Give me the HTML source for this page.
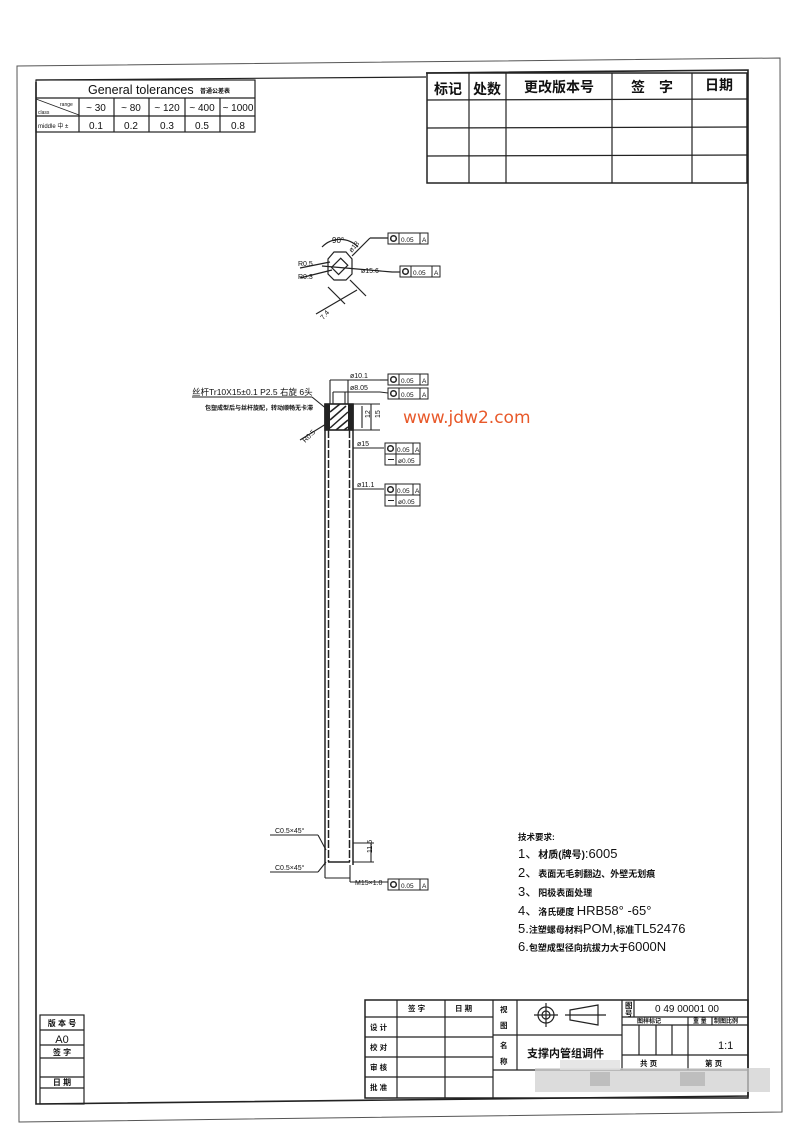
<!DOCTYPE html>
<html><head><meta charset="utf-8"><style>
html,body{margin:0;padding:0;background:#fff}
svg{display:block}
text{font-family:"Liberation Sans","Noto Sans CJK SC",sans-serif;fill:#111}
</style></head><body>
<svg width="800" height="1138" viewBox="0 0 800 1138" xmlns="http://www.w3.org/2000/svg">
<rect width="800" height="1138" fill="#fff"/>
<g fill="none" stroke="#222" stroke-width="1.2">
<polygon points="17,66 780,58 782,1112 19,1122" stroke="#555" stroke-width="1"/>
<polyline points="36,82 36,1104 748,1096 748,70 426,73" stroke-width="1.6"/>
<line x1="36" y1="80" x2="426" y2="77" stroke-width="1.2"/>
<rect x="36" y="80" width="219" height="52"/>
<line x1="36" y1="98" x2="255" y2="98"/>
<line x1="36" y1="116" x2="255" y2="116"/>
<line x1="79" y1="98" x2="79" y2="132"/>
<line x1="114" y1="98" x2="114" y2="132"/>
<line x1="149" y1="98" x2="149" y2="132"/>
<line x1="185" y1="98" x2="185" y2="132"/>
<line x1="220" y1="98" x2="220" y2="132"/>
<line x1="36" y1="99" x2="79" y2="115" stroke-width="0.8"/>
<rect x="427" y="73" width="320" height="110" stroke-width="1.5"/>
<line x1="427" y1="100" x2="747" y2="99"/>
<line x1="427" y1="128" x2="747" y2="127"/>
<line x1="427" y1="156" x2="747" y2="155"/>
<line x1="469" y1="73" x2="469" y2="183"/>
<line x1="506" y1="73" x2="506" y2="183"/>
<line x1="612" y1="73" x2="612" y2="183"/>
<line x1="692" y1="73" x2="692" y2="183"/>
</g>
<text x="88" y="94" font-size="12.5">General tolerances</text><text x="200" y="93" font-size="6" font-weight="bold">普通公差表</text>
<text x="60" y="106" font-size="5">range</text><text x="38" y="114" font-size="5">class</text>
<g font-size="10" text-anchor="middle">
<text x="96" y="111">~ 30</text><text x="131" y="111">~ 80</text><text x="167" y="111">~ 120</text><text x="202" y="111">~ 400</text><text x="238" y="111">~ 1000</text>
<text x="96" y="129">0.1</text><text x="131" y="129">0.2</text><text x="167" y="129">0.3</text><text x="202" y="129">0.5</text><text x="238" y="129">0.8</text>
</g>
<text x="38" y="128" font-size="6">middle 中 ±</text>
<g font-size="14" text-anchor="middle" font-weight="bold">
<text x="448" y="94">标记</text><text x="487" y="94">处数</text><text x="559" y="92">更改版本号</text><text x="652" y="92">签　字</text><text x="719" y="90">日期</text>
</g>

<g fill="none" stroke="#222" stroke-width="1.2">
<polygon points="334,252 346,252 352,259 352,274 346,280 334,280 328,274 328,259"/>
<rect x="335" y="260" width="10" height="13" transform="rotate(45 340 266)"/>
<path d="M322,247 A25,25 0 0 1 358,247"/>
<line x1="322" y1="266" x2="392" y2="272"/>
<line x1="352" y1="256" x2="370" y2="238"/><line x1="370" y1="238" x2="388" y2="238"/>
<line x1="350" y1="280" x2="366" y2="296"/><line x1="328" y1="287" x2="345" y2="304"/>
<line x1="316" y1="314" x2="357" y2="290"/>
<line x1="300" y1="268" x2="330" y2="262"/><line x1="300" y1="278" x2="332" y2="270"/>
<line x1="392" y1="272" x2="400" y2="272"/>
</g>
<text x="332" y="243" font-size="8">90°</text>
<text x="298" y="266" font-size="7">R0.5</text><text x="298" y="279" font-size="7">R0.3</text>
<text x="361" y="273" font-size="7">ø15.6</text>
<text x="350" y="249" font-size="7" transform="rotate(-50 355 249)">ø18</text>
<text x="320" y="317" font-size="7" transform="rotate(-50 325 315)">7.4</text>

<g fill="none" stroke="#222" stroke-width="1">
<rect x="388" y="233" width="40" height="11"/><line x1="399" y1="233" x2="399" y2="244"/><line x1="420" y1="233" x2="420" y2="244"/>
<rect x="400" y="266" width="40" height="11"/><line x1="411" y1="266" x2="411" y2="277"/><line x1="432" y1="266" x2="432" y2="277"/>
<rect x="388" y="374" width="40" height="11"/><line x1="399" y1="374" x2="399" y2="385"/><line x1="420" y1="374" x2="420" y2="385"/>
<rect x="388" y="388" width="40" height="11"/><line x1="399" y1="388" x2="399" y2="399"/><line x1="420" y1="388" x2="420" y2="399"/>
<rect x="385" y="443" width="35" height="11"/><line x1="396" y1="443" x2="396" y2="454"/><line x1="413" y1="443" x2="413" y2="454"/>
<rect x="385" y="454" width="35" height="11"/><line x1="396" y1="454" x2="396" y2="465"/>
<rect x="385" y="484" width="35" height="11"/><line x1="396" y1="484" x2="396" y2="495"/><line x1="413" y1="484" x2="413" y2="495"/>
<rect x="385" y="495" width="35" height="11"/><line x1="396" y1="495" x2="396" y2="506"/>
<rect x="388" y="879" width="40" height="11"/><line x1="399" y1="879" x2="399" y2="890"/><line x1="420" y1="879" x2="420" y2="890"/>
<circle cx="393.5" cy="238.5" r="2.8" stroke-width="1.5"/><circle cx="405.5" cy="271.5" r="2.8" stroke-width="1.5"/>
<circle cx="393.5" cy="379.5" r="2.8" stroke-width="1.5"/><circle cx="393.5" cy="393.5" r="2.8" stroke-width="1.5"/>
<circle cx="390.5" cy="448.5" r="2.8" stroke-width="1.5"/><circle cx="390.5" cy="489.5" r="2.8" stroke-width="1.5"/>
<circle cx="393.5" cy="884.5" r="2.8" stroke-width="1.5"/>
<line x1="388" y1="459.5" x2="394" y2="459.5"/><line x1="388" y1="500.5" x2="394" y2="500.5"/>
</g>
<g font-size="6.5">
<text x="401" y="242">0.05</text><text x="422" y="242">A</text>
<text x="413" y="275">0.05</text><text x="434" y="275">A</text>
<text x="401" y="383">0.05</text><text x="422" y="383">A</text>
<text x="401" y="397">0.05</text><text x="422" y="397">A</text>
<text x="397" y="452">0.05</text><text x="415" y="452">A</text><text x="398" y="463">ø0.05</text>
<text x="397" y="493">0.05</text><text x="415" y="493">A</text><text x="398" y="504">ø0.05</text>
<text x="401" y="888">0.05</text><text x="422" y="888">A</text>
</g>

<g fill="none" stroke="#222" stroke-width="1.5">
<line x1="325" y1="404" x2="325" y2="865"/><line x1="328.5" y1="430" x2="328.5" y2="862" stroke-dasharray="8,2"/>
<line x1="353" y1="404" x2="353" y2="865"/><line x1="349.5" y1="430" x2="349.5" y2="862" stroke-dasharray="8,2"/>
</g>
<g fill="none" stroke="#222" stroke-width="1.1">
<line x1="330" y1="380" x2="330" y2="404"/><line x1="348" y1="380" x2="348" y2="404"/>
<line x1="330" y1="380" x2="380" y2="380"/><line x1="333" y1="392" x2="380" y2="392"/>
<line x1="333" y1="392" x2="333" y2="404"/><line x1="345" y1="392" x2="345" y2="404"/>
<rect x="325" y="404" width="28" height="26" stroke-width="1.6"/>
<line x1="353" y1="404" x2="380" y2="404"/><line x1="353" y1="430" x2="380" y2="430"/>
<line x1="371" y1="404" x2="371" y2="430"/><line x1="362" y1="406" x2="362" y2="428"/>
<line x1="353" y1="448" x2="384" y2="448"/><line x1="353" y1="489" x2="384" y2="489"/>
<line x1="380" y1="380" x2="388" y2="380"/><line x1="380" y1="392" x2="388" y2="393"/>
<line x1="328" y1="862" x2="350" y2="862" stroke-width="1.5"/>
<line x1="325" y1="865" x2="325" y2="878"/><line x1="350" y1="865" x2="350" y2="882"/>
<line x1="353" y1="843" x2="374" y2="843"/><line x1="353" y1="862" x2="374" y2="862"/><line x1="371" y1="843" x2="371" y2="862"/>
<line x1="325" y1="878" x2="350" y2="878"/><line x1="350" y1="882" x2="388" y2="882"/>
<line x1="192" y1="397" x2="312" y2="397"/><line x1="312" y1="397" x2="328" y2="410"/>
<line x1="300" y1="440" x2="326" y2="424"/>
<line x1="270" y1="835" x2="318" y2="835"/><line x1="318" y1="835" x2="326" y2="850"/>
<line x1="270" y1="872" x2="318" y2="872"/><line x1="318" y1="872" x2="326" y2="862"/>
</g>
<g stroke="#222" stroke-width="1.5">
<line x1="330" y1="412" x2="340" y2="404"/><line x1="330" y1="420" x2="346" y2="406"/><line x1="330" y1="428" x2="348" y2="412"/><line x1="336" y1="430" x2="348" y2="420"/><line x1="344" y1="430" x2="348" y2="427"/>
</g>
<rect x="325" y="404" width="5" height="26" fill="#222"/><rect x="348" y="404" width="5" height="26" fill="#222"/>
<g font-size="7">
<text x="192" y="395" font-size="8.5">丝杆Tr10X15±0.1  P2.5 右旋 6头</text>
<text x="205" y="410" font-size="6" font-weight="bold">包塑成型后与丝杆旋配，转动顺畅无卡滞</text>
<text x="350" y="378">ø10.1</text><text x="350" y="390">ø8.05</text>
<text x="357" y="446">ø15</text><text x="357" y="487">ø11.1</text>
<text x="302" y="441" transform="rotate(-45 306 438)">R0.5</text>
<text x="367" y="421" transform="rotate(-90 367 418)">12</text><text x="377" y="421" transform="rotate(-90 377 418)">15</text>
<text x="368" y="857" transform="rotate(-90 368 853)">11.5</text>
<text x="275" y="833">C0.5×45°</text><text x="275" y="870">C0.5×45°</text>
<text x="355" y="885">M15×1.0</text>
</g>
<text x="403" y="423" font-size="17" style="fill:#e8592a;font-family:'DejaVu Sans',sans-serif">www.jdw2.com</text>

<text x="518" y="840" font-size="8.5" font-weight="bold">技术要求:</text>
<g font-size="13">
<text x="518" y="858">1、<tspan font-weight="bold" font-size="10">材质(牌号)</tspan>:6005</text>
<text x="518" y="877"><tspan>2、</tspan><tspan font-size="9" font-weight="bold">表面无毛刺翻边、外壁无划痕</tspan></text>
<text x="518" y="896"><tspan>3、</tspan><tspan font-size="9" font-weight="bold">阳极表面处理</tspan></text>
<text x="518" y="915"><tspan>4、</tspan><tspan font-size="9" font-weight="bold">洛氏硬度 </tspan>HRB58° -65°</text>
<text x="518" y="933"><tspan>5.</tspan><tspan font-size="9" font-weight="bold">注塑螺母材料</tspan>POM,<tspan font-size="9" font-weight="bold">标准</tspan>TL52476</text>
<text x="518" y="951"><tspan>6.</tspan><tspan font-size="9" font-weight="bold">包塑成型径向抗拔力大于</tspan>6000N</text>
</g>

<g fill="none" stroke="#222" stroke-width="1.2">
<rect x="40" y="1015" width="44" height="89"/>
<line x1="40" y1="1030" x2="84" y2="1030"/><line x1="40" y1="1045" x2="84" y2="1045"/>
<line x1="40" y1="1058" x2="84" y2="1058"/><line x1="40" y1="1077" x2="84" y2="1077"/><line x1="40" y1="1088" x2="84" y2="1088"/>
</g>
<g font-size="8" text-anchor="middle" font-weight="bold">
<text x="62" y="1026">版 本 号</text><text x="62" y="1043" font-size="11" font-weight="normal">A0</text><text x="62" y="1055">签 字</text><text x="62" y="1085">日 期</text>
</g>

<g fill="none" stroke="#222" stroke-width="1.2">
<rect x="365" y="1000" width="383" height="98" stroke-width="1.5"/>
<line x1="365" y1="1017" x2="493" y2="1017"/><line x1="365" y1="1037" x2="493" y2="1037"/>
<line x1="365" y1="1057" x2="493" y2="1057"/><line x1="365" y1="1077" x2="493" y2="1077"/>
<line x1="397" y1="1000" x2="397" y2="1098"/><line x1="445" y1="1000" x2="445" y2="1098"/>
<line x1="493" y1="1000" x2="493" y2="1098"/><line x1="517" y1="1000" x2="517" y2="1070"/>
<line x1="622" y1="1000" x2="622" y2="1070"/><line x1="493" y1="1035" x2="622" y2="1035"/>
<line x1="493" y1="1070" x2="748" y2="1070"/>
<line x1="634" y1="1000" x2="634" y2="1017"/>
<line x1="622" y1="1017" x2="748" y2="1017"/><line x1="622" y1="1025" x2="748" y2="1025"/>
<line x1="622" y1="1055" x2="748" y2="1055"/>
<line x1="688" y1="1017" x2="688" y2="1070"/><line x1="712" y1="1017" x2="712" y2="1025"/>
<line x1="639" y1="1025" x2="639" y2="1055"/><line x1="656" y1="1025" x2="656" y2="1055"/><line x1="672" y1="1025" x2="672" y2="1055"/>
<circle cx="546" cy="1015" r="8"/><circle cx="546" cy="1015" r="4"/>
<line x1="534" y1="1015" x2="558" y2="1015"/><line x1="546" y1="1003" x2="546" y2="1027"/>
<polygon points="570,1010 598,1005 598,1025 570,1020"/><line x1="565" y1="1015" x2="606" y2="1015"/>
</g>
<g font-size="7.5" font-weight="bold">
<text x="408" y="1011">签 字</text><text x="455" y="1011">日 期</text>
<text x="370" y="1030">设 计</text><text x="370" y="1050">校 对</text><text x="370" y="1070">审 核</text><text x="370" y="1090">批 准</text>
<text x="500" y="1012">视</text><text x="500" y="1028">图</text><text x="500" y="1048">名</text><text x="500" y="1064">称</text>
<text x="625" y="1008">图</text><text x="625" y="1016">号</text>
<text x="637" y="1023" font-size="6">图样标记</text><text x="693" y="1023" font-size="6">重 量</text><text x="714" y="1023" font-size="6">制图比例</text>
<text x="640" y="1066">共  页</text><text x="705" y="1066">第  页</text>
</g>
<text x="527" y="1057" font-size="11" font-weight="bold">支撑内管组调件</text>
<text x="655" y="1012" font-size="10">0 49 00001 00</text>
<text x="718" y="1049" font-size="11">1:1</text>
<rect x="535" y="1068" width="235" height="24" fill="#d0d0d0" opacity="0.75"/>
<rect x="560" y="1060" width="60" height="10" fill="#e0e0e0" opacity="0.8"/>
<rect x="590" y="1072" width="20" height="14" fill="#aaa" opacity="0.6"/>
<rect x="680" y="1072" width="25" height="14" fill="#aaa" opacity="0.6"/>
</svg>
</body></html>
